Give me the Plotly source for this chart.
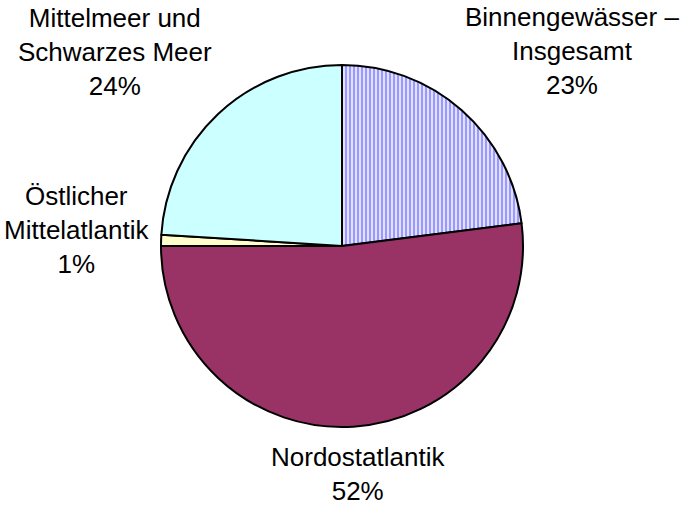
import plotly.graph_objects as go

labels = ["Binnengewässer –<br>Insgesamt", "Nordostatlantik", "Östlicher<br>Mittelatlantik", "Mittelmeer und<br>Schwarzes Meer"]
values = [23, 52, 1, 24]
colors = ["#FFFFFF", "#993366", "#FFFFCC", "#CCFFFF"]
patterns = ["|", "", "", ""]

W, H = 684, 507
# label block centres (pixel positions of the text annotations)
label_pos = [(572, 51), (358, 474), (76, 230), (115, 52)]

total = sum(values)

fig = go.Figure(go.Pie(
    labels=labels,
    values=values,
    sort=False,
    direction="clockwise",
    rotation=0,
    textinfo="none",
    hoverinfo="skip",
    showlegend=False,
    marker=dict(
        colors=colors,
        line=dict(color="#000000", width=2),
        pattern=dict(shape=patterns, fgcolor="#9999FF", bgcolor="#F4F4FF", size=4, solidity=0.6),
    ),
    domain=dict(x=[(342 - 181) / W, (342 + 181) / W], y=[1 - 427 / H, 1 - 65 / H]),
))

for lab, v, (px, py) in zip(labels, values, label_pos):
    fig.add_annotation(
        text=f"{lab}<br>{round(v / total * 100)}%",
        x=px / W, y=1 - py / H, xref="paper", yref="paper",
        xanchor="center", yanchor="middle", showarrow=False, align="center",
        font=dict(family="Liberation Sans, Arial, sans-serif", size=26, color="#000000"),
    )

fig.update_layout(
    width=W, height=H,
    margin=dict(l=0, r=0, t=0, b=0),
    paper_bgcolor="#FFFFFF", plot_bgcolor="#FFFFFF",
)

fig.write_html("out.html", config={"displayModeBar": False},
               post_script="document.body.style.margin='0';document.body.style.overflow='hidden';")
